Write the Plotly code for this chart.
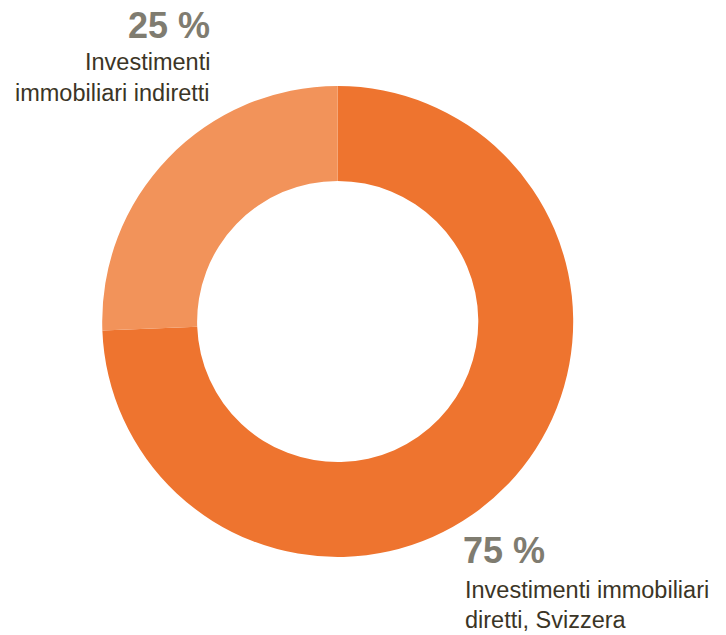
import plotly.graph_objects as go

categories = ["Investimenti immobiliari diretti, Svizzera", "Investimenti immobiliari indiretti"]
shares = [74.4, 25.6]
pct_labels = ["75 %", "25 %"]
colors = ["#EE742F", "#F2935A"]

W, H = 726, 635
cx, cy, r = 337.7, 321.5, 235.5

fig = go.Figure(go.Pie(
    labels=categories,
    values=shares,
    hole=0.597,
    sort=False,
    direction="clockwise",
    rotation=0,
    textinfo="none",
    hoverinfo="label+percent",
    marker=dict(colors=colors, line=dict(width=0)),
    domain=dict(x=[(cx - r) / W, (cx + r) / W], y=[(H - cy - r) / H, (H - cy + r) / H]),
    showlegend=False,
))

pct_color = "#7f7c70"
txt_color = "#3b3526"
font_family = "Liberation Sans, Arial, Helvetica, sans-serif"

def ann(text, x, y, xanchor, size, color, bold=False):
    t = f"<b>{text}</b>" if bold else text
    fig.add_annotation(text=t, x=x / W, y=1 - y / H, xref="paper", yref="paper",
                       xanchor=xanchor, yanchor="middle", showarrow=False,
                       align="right" if xanchor == "right" else "left",
                       font=dict(family=font_family, size=size, color=color))

ann(pct_labels[1], 212, 25, "right", 36, pct_color, bold=True)
ann("Investimenti", 212, 62, "right", 23.5, txt_color)
ann("immobiliari indiretti", 212, 93, "right", 23.5, txt_color)

ann(pct_labels[0], 461, 550, "left", 36, pct_color, bold=True)
ann("Investimenti immobiliari", 463, 590, "left", 23.5, txt_color)
ann("diretti, Svizzera", 463, 620, "left", 23.5, txt_color)

fig.update_layout(
    width=W, height=H,
    margin=dict(l=0, r=0, t=0, b=0),
    paper_bgcolor="white", plot_bgcolor="white",
)

fig.write_html("out.html", config={"displayModeBar": False},
               post_script="document.body.style.margin='0';")
